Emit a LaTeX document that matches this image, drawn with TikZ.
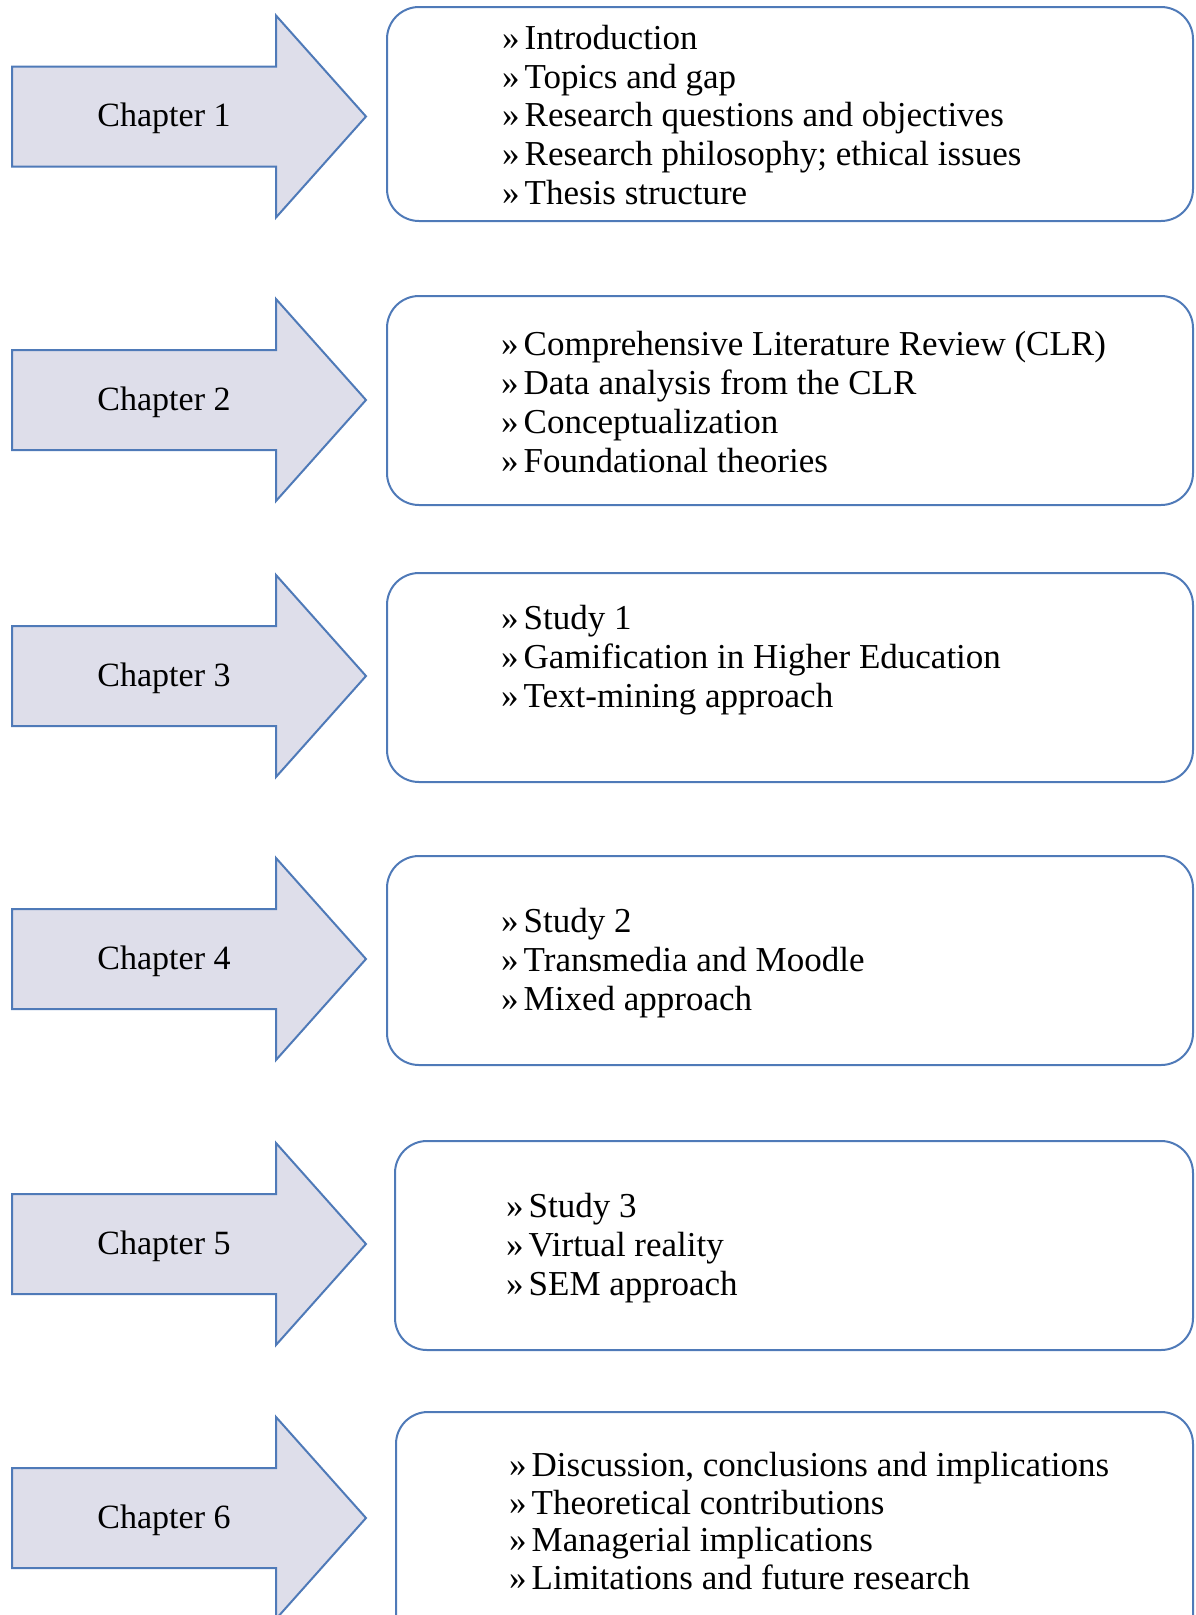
\documentclass[tikz,border=0pt]{standalone}
\usepackage{fontspec}
\setmainfont{Liberation Serif}
\definecolor{edgeblue}{RGB}{79,122,184}
\definecolor{arrowfill}{RGB}{222,222,234}
\tikzset{
  chaparrow/.style={draw=edgeblue, fill=arrowfill, line width=2pt, line join=miter},
  infobox/.style={draw=edgeblue, line width=2pt, rounded corners=32pt},
  chaplabel/.style={font=\fontsize{34}{38}\selectfont, inner sep=0pt},
  infotext/.style={font=\fontsize{35}{38.7}\selectfont, align=left, anchor=west, inner sep=0pt},
}
\newcommand{\chaparr}[3]{%
  \draw[chaparrow] (12,#1-50) -- (276,#1-50) -- (276,#1-101) -- (366,#1) -- (276,#1+101) -- (276,#1+50) -- (12,#1+50) -- cycle;
  \node[chaplabel] (#2) at (164,#1+2) {#3};}
\newcommand{\bl}{»\kern5pt}
\begin{document}
\begin{tikzpicture}[x=1pt,y=-1pt]
\useasboundingbox (0,0) rectangle (1195,1615);
\begin{scope}
\clip (0,0) rectangle (1195,1615);
\chaparr{116.5}{c1}{Chapter 1}
\chaparr{400}{c2}{Chapter 2}
\chaparr{676}{c3}{Chapter 3}
\chaparr{959}{c4}{Chapter 4}
\chaparr{1244}{c5}{Chapter 5}
\chaparr{1518}{c6}{Chapter 6}
\draw[infobox] (387,7) rectangle (1193,221);
\draw[infobox] (387,296) rectangle (1193,505);
\draw[infobox] (387,573) rectangle (1193,782);
\draw[infobox] (387,856) rectangle (1193,1065);
\draw[infobox] (395,1141) rectangle (1193,1350);
\draw[infobox] (396,1412) rectangle (1193,1660);
\end{scope}
\node[infotext] (t1) at (502,115) {\bl Introduction\\\bl Topics and gap\\\bl Research questions and objectives\\\bl Research philosophy; ethical issues\\\bl Thesis structure};
\node[infotext] (t2) at (501,402) {\bl Comprehensive Literature Review (CLR)\\\bl Data analysis from the CLR\\\bl Conceptualization\\\bl Foundational theories};
\node[infotext] (t3) at (501,660) {\bl Study 1\\\bl Gamification in Higher Education\\\bl Text-mining approach};
\node[infotext] (t4) at (501,963) {\bl Study 2\\\bl Transmedia and Moodle\\\bl Mixed approach};
\node[infotext] (t5) at (506,1248) {\bl Study 3\\\bl Virtual reality\\\bl SEM approach};
\node[infotext, font=\fontsize{35}{37.7}\selectfont] (t6) at (509,1521) {\bl Discussion, conclusions and implications\\\bl Theoretical contributions\\\bl Managerial implications\\\bl Limitations and future research};
\end{tikzpicture}
\end{document}
